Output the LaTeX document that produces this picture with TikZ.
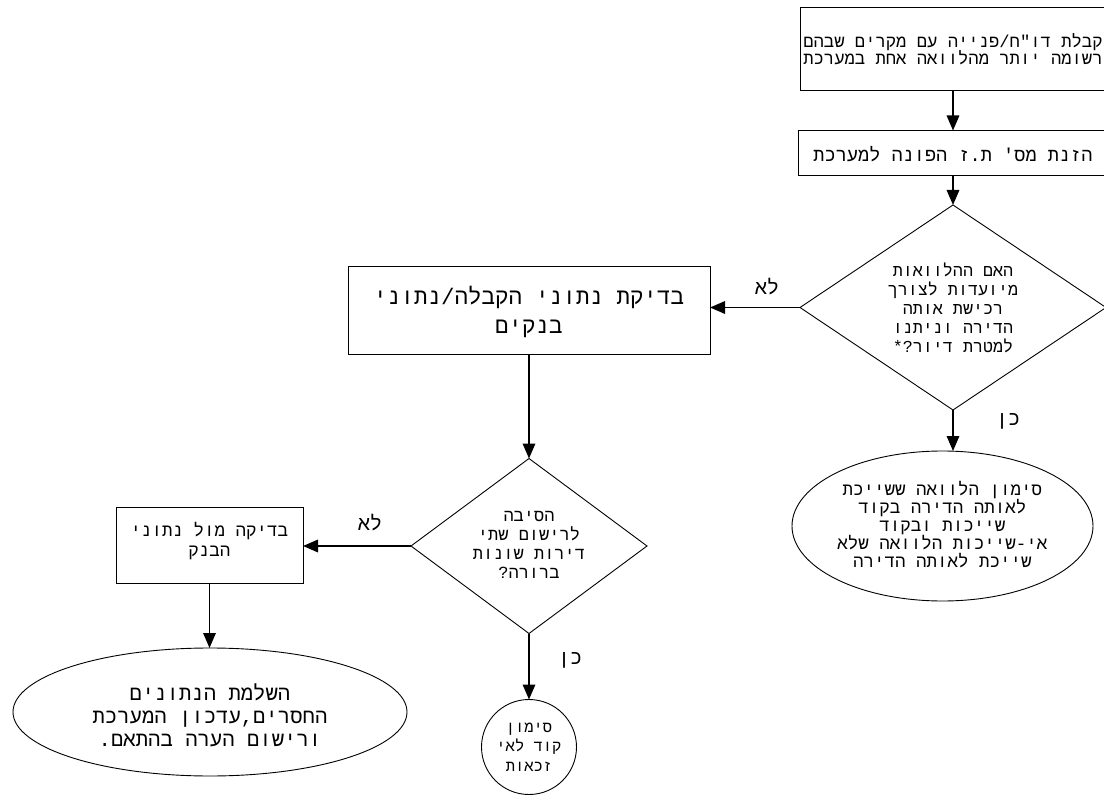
\documentclass[tikz,border=0pt]{standalone}
\usepackage{fontspec}
\usetikzlibrary{shapes.geometric,arrows.meta}
\TeXXeTstate=1
\newfontfamily\hebmono[Script=Hebrew]{Liberation Mono}
\newcommand\RL[1]{\beginR #1\endR}
\newcommand\fsz[2]{\fontsize{#1}{#2}\selectfont\hebmono}
\tikzset{
  shp/.style={draw=black, line width=0.9pt, inner sep=0pt, outer sep=0pt},
  box/.style={shp, rectangle},
  dia/.style={shp, diamond},
  ell/.style={shp, ellipse},
  txt/.style={align=center, inner sep=0pt},
  arr/.style={line width=1.7pt, -{Triangle[length=15pt,width=12.5pt]}},
  lbl/.style={inner sep=0pt, font=\fsz{20}{24}},
}
\begin{document}
\begin{tikzpicture}[x=1pt,y=-1pt]
\useasboundingbox (0,0) rectangle (1104,805);
\clip (0,0) rectangle (1104,805);
\fill[white] (0,0) rectangle (1104,805);
% shapes
\node[box, minimum width=306pt, minimum height=83pt] (b1) at (953,48.5) {};
\node[box, minimum width=310pt, minimum height=45pt] (b2) at (953,153) {};
\node[dia, minimum width=306pt, minimum height=205pt] (d1) at (953,307.5) {};
\node[box, minimum width=362pt, minimum height=88pt] (b3) at (529,310) {};
\node[ell, minimum width=301pt, minimum height=150pt] (e1) at (942.5,526) {};
\node[dia, minimum width=236pt, minimum height=175pt] (d2) at (529,546) {};
\node[box, minimum width=187pt, minimum height=76pt] (b4) at (209.5,545) {};
\node[ell, minimum width=394pt, minimum height=128pt] (e3) at (210,712) {};
\node[shp, circle, minimum size=95pt] (c1) at (529,747) {};
% texts
\node[txt, font=\fsz{17.2}{17.5}] (t1) at (953,49) {\RL{קבלת דו"ח/פנייה עם מקרים שבהם}\\\RL{רשומה יותר מהלוואה אחת במערכת}};
\node[txt, font=\fsz{18.6}{20}] (t2) at (953,154) {\RL{הזנת מס' ת.ז הפונה למערכת}};
\node[txt, font=\fsz{16.7}{19}] (t3) at (953,308) {\RL{האם ההלוואות}\\\RL{מיועדות לצורך}\\\RL{רכישת אותה}\\\RL{הדירה וניתנו}\\\RL{למטרת דיור?*}};
\node[txt, font=\fsz{22.5}{29}] (t4) at (529,312) {\RL{בדיקת נתוני הקבלה/נתוני}\\\RL{בנקים}};
\node[txt, font=\fsz{17.5}{18}] (t5) at (942.5,525) {\RL{סימון הלוואה ששייכת}\\\RL{לאותה הדירה בקוד}\\\RL{שייכות ובקוד}\\\RL{אי-שייכות הלוואה שלא}\\\RL{שייכת לאותה הדירה}};
\node[txt, font=\fsz{17}{19}] (t6) at (529,545) {\RL{הסיבה}\\\RL{לרישום שתי}\\\RL{דירות שונות}\\\RL{ברורה?}};
\node[txt, font=\fsz{17.5}{20}] (t7) at (209.5,541) {\RL{בדיקה מול נתוני}\\\RL{הבנק}};
\node[txt, font=\fsz{20.6}{23}] (t8) at (210,715) {\RL{השלמת הנתונים}\\\RL{החסרים,עדכון המערכת}\\\RL{ורישום הערה בהתאם.}};
\node[txt, font=\fsz{15.5}{19.5}] (t9) at (529,747) {\RL{סימון}\\\RL{קוד לאי}\\\RL{זכאות}};
% connectors
\draw[arr] (b1) -- (b2);
\draw[arr] (b2) -- (d1);
\draw[arr] (d1.west) -- (d1.west -| b3.east);
\draw[arr] (d1.south) -- (d1.south |- e1.north);
\draw[arr] (b3.south) -- (b3.south |- d2.north);
\draw[arr] (d2.west) -- (d2.west -| b4.east);
\draw[arr] (b4.south) -- (b4.south |- e3.north);
\draw[arr] (d2.south) -- (c1.north);
% labels
\node[lbl] (l1) at (767,287) {\RL{לא}};
\node[lbl] (l2) at (1008,421) {\RL{כן}};
\node[lbl] (l3) at (370,523) {\RL{לא}};
\node[lbl] (l4) at (570,660) {\RL{כן}};
\end{tikzpicture}
\end{document}
